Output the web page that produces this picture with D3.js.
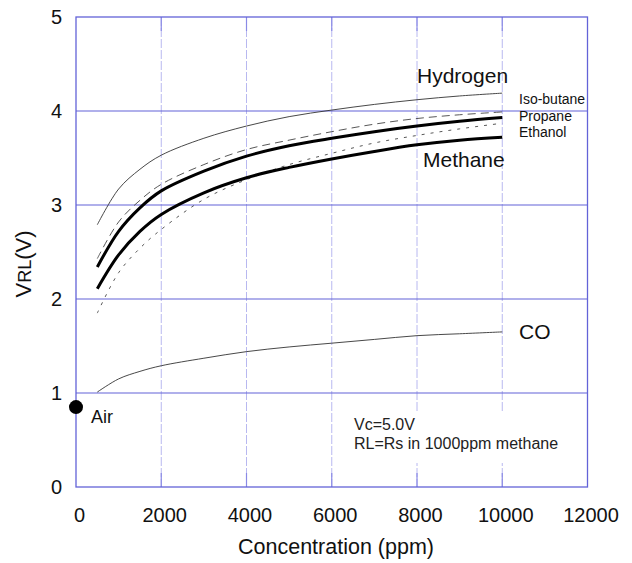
<!DOCTYPE html>
<html><head><meta charset="utf-8">
<script src="https://cdn.jsdelivr.net/npm/d3@7"></script>
<style>body{margin:0;background:#fff}svg{display:block;font-family:"Liberation Sans",Arial,sans-serif}</style>
</head><body>
<svg id="c" width="632" height="563"></svg>
<script>
const conc = [500,1000,1500,2000,3000,4000,5000,6000,7000,8000,9000,10000];
const hydrogen = [2.79,3.17,3.38,3.53,3.71,3.84,3.94,4.01,4.07,4.12,4.16,4.19];
const isoButane = [2.43,2.82,3.05,3.22,3.43,3.59,3.69,3.78,3.86,3.92,3.96,3.99];
const propane = [2.34,2.72,2.97,3.15,3.36,3.52,3.63,3.71,3.78,3.84,3.89,3.93];
const ethanol = [1.85,2.28,2.54,2.74,3.06,3.27,3.43,3.55,3.66,3.74,3.81,3.87];
const methane = [2.11,2.47,2.72,2.90,3.13,3.29,3.40,3.49,3.57,3.64,3.69,3.72];
const co = [1.01,1.15,1.23,1.29,1.37,1.44,1.49,1.53,1.57,1.61,1.63,1.65];
const air = {x:0, y:0.85};
const xTicks = [0,2000,4000,6000,8000,10000,12000];
const yTicks = [0,1,2,3,4,5];

const svg = d3.select("#c");
const x = d3.scaleLinear().domain([0,12000]).range([76,587.5]);
const y = d3.scaleLinear().domain([0,5]).range([487,17]);
const grid = "#6363d8";

// vertical grid (light dashed) with inward ticks
xTicks.slice(1,-1).forEach(t=>{
  svg.append("line").attr("x1",x(t)).attr("x2",x(t)).attr("y1",y(5)).attr("y2",y(0))
    .attr("stroke","#b8b8f0").attr("stroke-width",1).attr("stroke-dasharray","9,2");
  svg.append("line").attr("x1",x(t)).attr("x2",x(t)).attr("y1",y(5)).attr("y2",y(5)+14)
    .attr("stroke","#8a8ae6").attr("stroke-width",1.2);
  svg.append("line").attr("x1",x(t)).attr("x2",x(t)).attr("y1",y(0)).attr("y2",y(0)-14)
    .attr("stroke","#8a8ae6").attr("stroke-width",1.2);
});
// horizontal grid
yTicks.slice(1,-1).forEach(t=>{
  svg.append("line").attr("x1",x(0)).attr("x2",x(12000)).attr("y1",y(t)).attr("y2",y(t))
    .attr("stroke",grid).attr("stroke-width",1.2);
});
// frame
svg.append("rect").attr("x",x(0)).attr("y",y(5)).attr("width",x(12000)-x(0)).attr("height",y(0)-y(5))
  .attr("fill","none").attr("stroke",grid).attr("stroke-width",1.3);

// note box background
svg.append("rect").attr("x",338).attr("y",413).attr("width",185).attr("height",50).attr("fill","#fff");
svg.append("text").attr("x",354).attr("y",430).attr("font-size",16).attr("fill","#222").text("Vc=5.0V");
svg.append("text").attr("x",354).attr("y",449).attr("font-size",16).attr("fill","#222").text("RL=Rs in 1000ppm methane");

// axes labels
const yAx = d3.axisLeft(y).tickValues(yTicks).tickSize(0).tickPadding(14).tickFormat(d3.format("d"));
const gy = svg.append("g").attr("transform",`translate(${x(0)},0)`).call(yAx);
gy.select(".domain").remove();
gy.selectAll("text").attr("font-size",20).attr("font-family","Liberation Sans, Arial, sans-serif").attr("fill","#111");
const xAx = d3.axisBottom(x).tickValues(xTicks).tickSize(0).tickPadding(21).tickFormat(d3.format("d"));
const gx = svg.append("g").attr("transform",`translate(3,${y(0)})`).call(xAx);
gx.select(".domain").remove();
gx.selectAll("text").attr("font-size",20).attr("font-family","Liberation Sans, Arial, sans-serif").attr("fill","#111");

svg.append("text").attr("x",336).attr("y",554).attr("text-anchor","middle").attr("font-size",21.5).attr("fill","#111")
  .text("Concentration (ppm)");
const yt = svg.append("text").attr("transform","translate(31,264) rotate(-90)").attr("text-anchor","middle")
  .attr("font-size",22).attr("fill","#111");
yt.append("tspan").text("V");
yt.append("tspan").attr("font-size",18).text("RL");
yt.append("tspan").text("(V)");

// curves
const line = d3.line().x(d=>x(d[0])).y(d=>y(d[1])).curve(d3.curveCatmullRom.alpha(0.5));
const series = [
  {v:hydrogen, w:0.9, c:"#333", dash:null},
  {v:isoButane, w:0.9, c:"#444", dash:"8,5"},
  {v:propane, w:3, c:"#000", dash:null},
  {v:ethanol, w:0.9, c:"#444", dash:"3,6"},
  {v:methane, w:3, c:"#000", dash:null},
  {v:co, w:0.9, c:"#333", dash:null}
];
series.forEach(s=>{
  svg.append("path").datum(conc.map((c,i)=>[c,s.v[i]])).attr("d",line)
    .attr("fill","none").attr("stroke",s.c).attr("stroke-width",s.w)
    .attr("stroke-dasharray",s.dash);
});

// air point
svg.append("circle").attr("cx",x(air.x)).attr("cy",y(air.y)).attr("r",7).attr("fill","#000");

// labels
const lab = (t,xx,yy,fs)=>svg.append("text").attr("x",xx).attr("y",yy).attr("font-size",fs).attr("fill","#111").text(t);
lab("Hydrogen",417,83,21);
lab("Methane",423,167,21);
lab("Iso-butane",519,104,14);
lab("Propane",519,121,14);
lab("Ethanol",519,137,14);
lab("CO",519,339,21);
lab("Air",91,423,18);
</script>
</body></html>
